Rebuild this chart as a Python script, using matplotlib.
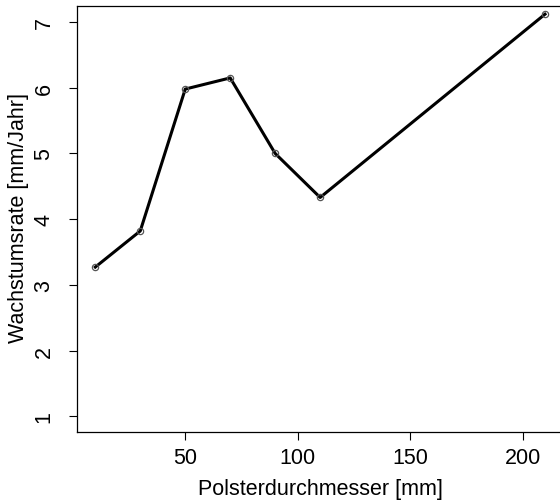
import matplotlib.pyplot as plt

durchmesser = [10, 30, 50, 70, 90, 110, 210]
wachstum = [3.27, 3.82, 5.98, 6.15, 5.00, 4.33, 7.12]
xticks = [50, 100, 150, 200]
yticks = [1, 2, 3, 4, 5, 6, 7]

plt.rcParams['font.family'] = ['Liberation Sans', 'DejaVu Sans']

W, H = 560, 502
fig = plt.figure(figsize=(W / 100, H / 100), dpi=100)
# plot region runs past the right edge, like the cropped original
left, right, top, bottom = 77.3, 563, 7.3, 433
ax = fig.add_axes([left / W, 1 - bottom / H, (right - left) / W, (bottom - top) / H])

ax.plot(durchmesser, wachstum, color='black', lw=2.2, zorder=2)
ax.plot(durchmesser, wachstum, 'o', ms=4.5, mfc='none', mec='#555555', mew=0.9, zorder=3)

ax.set_xlim(2, 218)
ax.set_ylim(0.76, 7.24)
ax.set_xticks(xticks)
ax.set_yticks(yticks)
ax.tick_params(axis='both', direction='out', length=5.5, width=0.8, labelsize=15.5)
ax.tick_params(axis='x', pad=5)
ax.tick_params(axis='y', pad=11)
for lab in ax.get_yticklabels():
    lab.set_rotation(90)
    lab.set_va('center')
for s in ax.spines.values():
    s.set_linewidth(0.9)

fig.text(320 / W, 1 - 490 / H, 'Polsterdurchmesser [mm]', ha='center', va='center', fontsize=15.5)
fig.text(19 / W, 1 - 218 / H, 'Wachstumsrate [mm/Jahr]', ha='center', va='center',
         rotation=90, fontsize=15.5)

fig.savefig('out.png', dpi=100)
